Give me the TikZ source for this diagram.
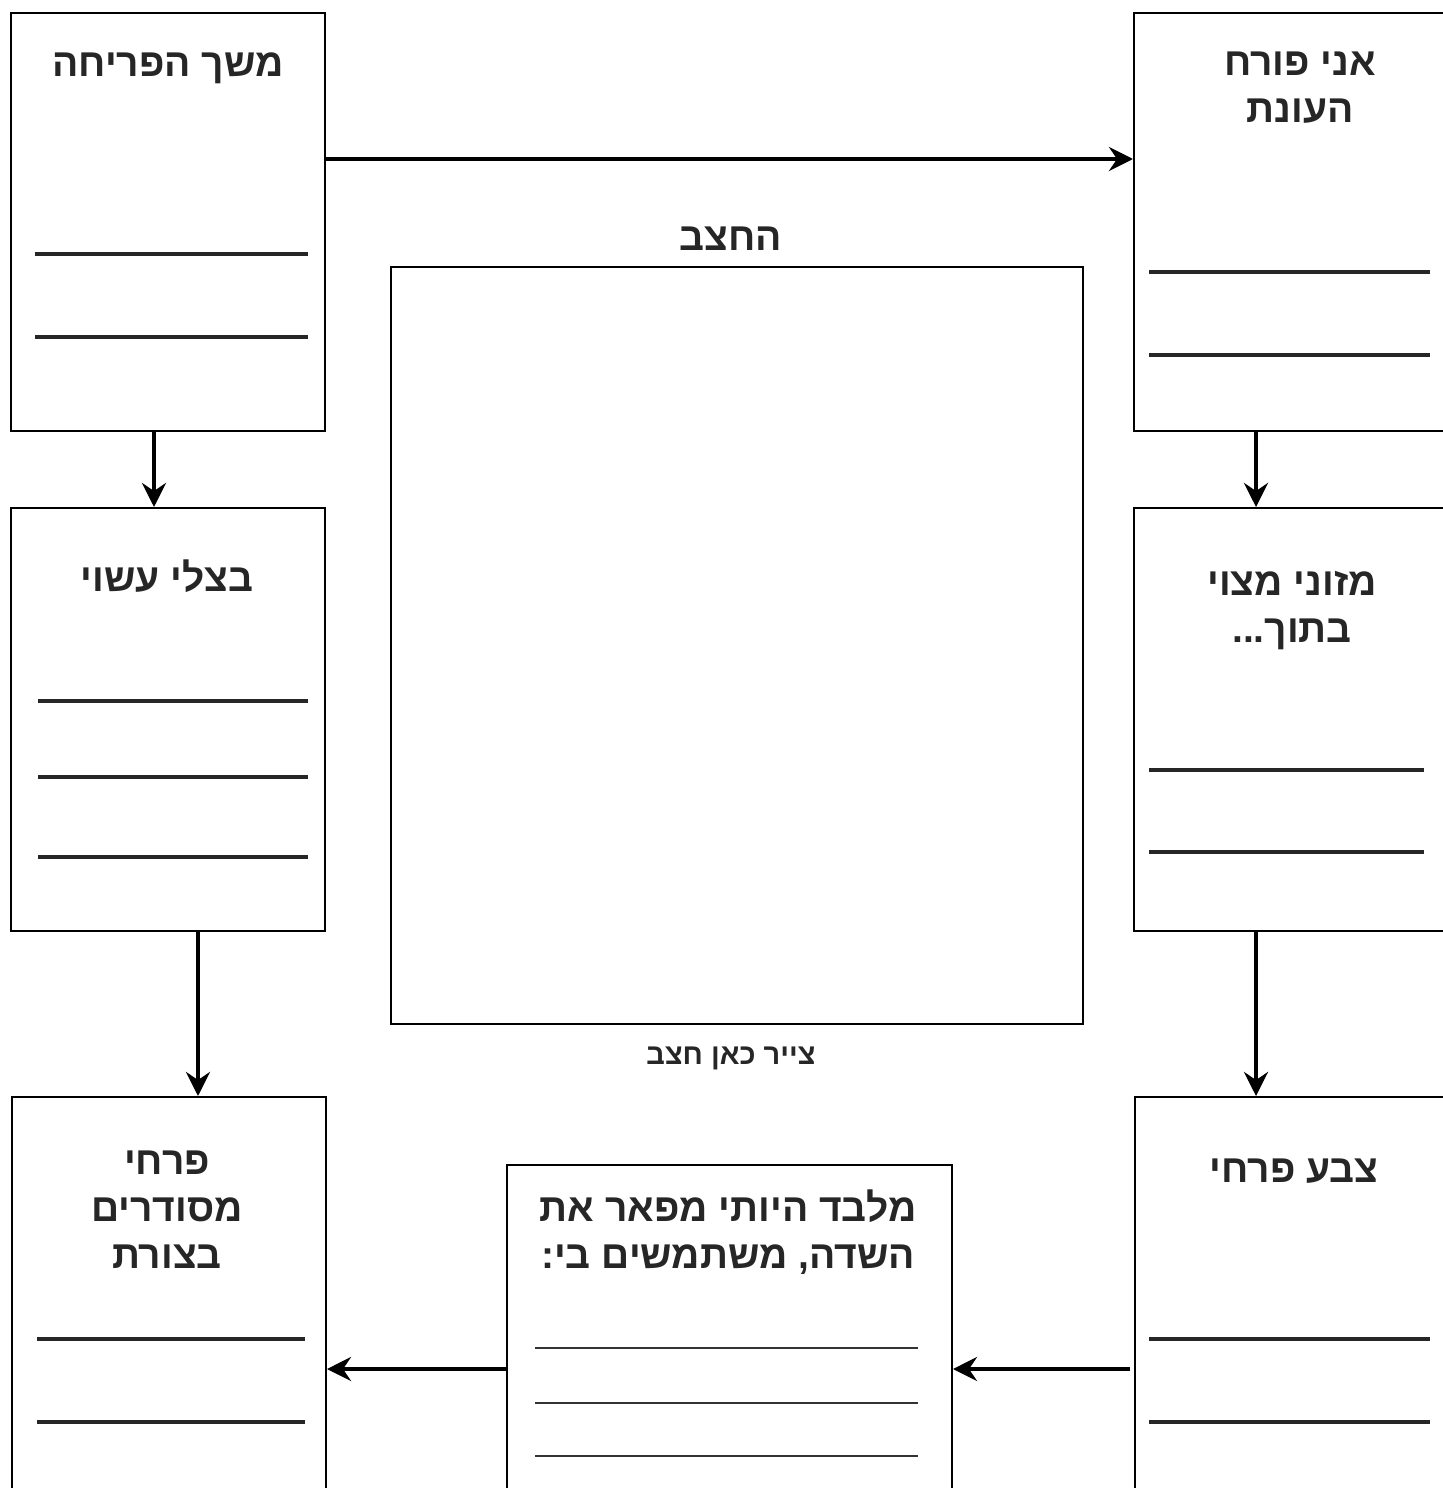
\documentclass[tikz,border=0pt]{standalone}
\usepackage{fontspec}
\newfontfamily\hebfont[Script=Hebrew]{Liberation Sans}
\TeXXeTstate=1
\usetikzlibrary{arrows.meta}
\newcommand{\heb}[1]{\beginR #1\endR}

\begin{document}
\begin{tikzpicture}[x=0.5pt, y=-0.5pt,
    box/.style={draw, line width=1pt, rectangle, anchor=north west, inner sep=0pt, minimum width=157pt},
    title/.style={font=\hebfont\bfseries\fontsize{19.5}{23.5}\selectfont, align=center, anchor=base, text=black!85},
    small/.style={font=\hebfont\bfseries\fontsize{14.5}{17}\selectfont, anchor=base, text=black!85},
    blank/.style={line width=2.2pt, black!85},
    thin/.style={line width=1pt, black!80},
    arr/.style={-{Stealth[length=12pt, width=12pt, inset=4pt]}, line width=2pt}]
    \useasboundingbox (0,0) rectangle (1443,1488);
    \clip (0,0) rectangle (1443,1488);

    % boxes
    \node[box, minimum height=209pt] (season) at (10,12) {};
    \node[box, minimum height=209pt] (bloom) at (1133,12) {};
    \node[box, minimum height=211.5pt] (bulb) at (10,507) {};
    \node[box, minimum height=211.5pt] (food) at (1133,507) {};
    \node[box, minimum height=210pt] (shape) at (11,1096) {};
    \node[box, minimum height=210pt] (colour) at (1134,1096) {};
    \node[box, minimum width=222.5pt, minimum height=200pt] (field) at (506,1164) {};
    \node[box, minimum width=346pt, minimum height=378.5pt] (drawing) at (390,266) {};

    % titles (base = last line)
    \node[title] (t-season) at (168,76) {\heb{משך הפריחה}};
    \node[title] (t-bloom) at (1300,122) {\heb{אני פורח}\\\heb{העונת}};
    \node[title] (t-bulb) at (167,591) {\heb{בצלי עשוי}};
    \node[title] (t-food) at (1292,642) {\heb{מזוני מצוי}\\\heb{בתוך...}};
    \node[title] (t-shape) at (167,1268) {\heb{פרחי}\\\heb{מסודרים}\\\heb{בצורת}};
    \node[title] (t-colour) at (1294,1182) {\heb{צבע פרחי}};
    \node[title] (t-field) at (728,1268) {\heb{מלבד היותי מפאר את}\\\heb{השדה, משתמשים בי:}};
    \node[title] (t-drawing) at (731,250) {\heb{החצב}};
    \node[small] (hint) at (731,1064) {\heb{צייר כאן חצב}};

    % lines to write on
    \draw[blank] (35,254) -- (308,254);
    \draw[blank] (35,337) -- (308,337);
    \draw[blank] (1149,272) -- (1430,272);
    \draw[blank] (1149,355) -- (1430,355);
    \draw[blank] (38,701) -- (308,701);
    \draw[blank] (38,777) -- (308,777);
    \draw[blank] (38,857) -- (308,857);
    \draw[blank] (1149,770) -- (1424,770);
    \draw[blank] (1149,852) -- (1424,852);
    \draw[blank] (37,1339) -- (305,1339);
    \draw[blank] (37,1422) -- (305,1422);
    \draw[blank] (1149,1339) -- (1430,1339);
    \draw[blank] (1149,1422) -- (1430,1422);
    \draw[thin] (535,1348) -- (918,1348);
    \draw[thin] (535,1403) -- (918,1403);
    \draw[thin] (535,1456) -- (918,1456);

    % connectors
    \draw[arr] ([yshift=31.5pt]season.east) -- ([yshift=31.5pt]bloom.west);
    \draw[arr] ([xshift=-7pt]season.south) -- ([xshift=-7pt]bulb.north);
    \draw[arr] ([xshift=-17.5pt]bloom.south) -- ([xshift=-17.5pt]food.north);
    \draw[arr] ([xshift=15pt]bulb.south) -- ([xshift=15pt]bulb.south |- shape.north);
    \draw[arr] ([xshift=-17.5pt]food.south) -- ([xshift=-17.5pt]food.south |- colour.north);
    \draw[arr] ([xshift=-2pt, yshift=-31pt]colour.west) -- ([yshift=-31pt]colour.west -| field.east);
    \draw[arr] ([yshift=-31pt]colour.west -| field.west) -- ([yshift=-31pt]colour.west -| shape.east);
\end{tikzpicture}
\end{document}
